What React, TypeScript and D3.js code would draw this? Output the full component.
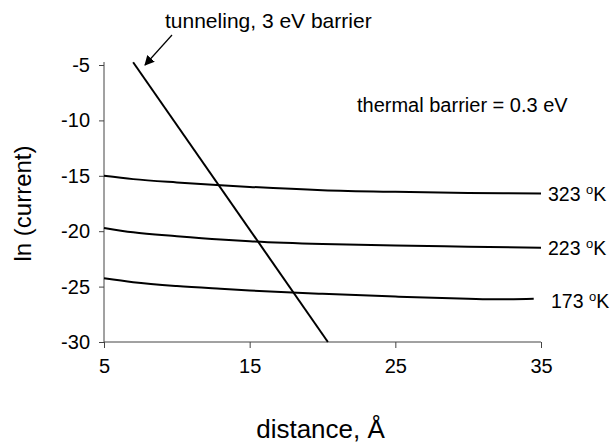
import React, { useEffect, useRef } from 'react';
import * as d3 from 'd3';

// values
const distance = [5, 7, 10, 13, 15, 20, 25, 30, 35];
const k323 = [-15.0, -15.3, -15.6, -15.85, -16.0, -16.3, -16.45, -16.55, -16.6];
const k223 = [-19.7, -20.1, -20.45, -20.75, -20.9, -21.15, -21.3, -21.4, -21.5];
const distance173 = [5, 7, 10, 13, 15, 20, 25, 30, 32, 34.5];
const k173 = [-24.25, -24.6, -24.95, -25.2, -25.35, -25.65, -25.9, -26.1, -26.15, -26.1];
const tunnelDistance = [7.0, 20.37];
const tunnelCurrent = [-4.75, -30];

const xTicks = [5, 15, 25, 35];
const yTicks = [-5, -10, -15, -20, -25, -30];
const seriesLabels = ['323', '223', '173'];

const WIDTH = 611;
const HEIGHT = 443;
const FONT = 'Liberation Sans, Arial, sans-serif';

export default function App() {
    const node = useRef<SVGSVGElement>(null);

    useEffect(() => {
        const svg = d3.select(node.current);
        svg.selectAll('*').remove();

        const x = d3.scaleLinear().domain([5, 35]).range([104, 541]);
        const y = d3.scaleLinear().domain([-30, -5]).range([342, 65]);

        svg.append('defs').append('marker')
            .attr('id', 'arrow')
            .attr('viewBox', '0 0 10 10')
            .attr('refX', 9).attr('refY', 5)
            .attr('markerWidth', 10).attr('markerHeight', 10)
            .attr('markerUnits', 'userSpaceOnUse')
            .attr('orient', 'auto')
            .append('path')
            .attr('d', 'M0,0 L10,5 L0,10 z')
            .attr('fill', '#000');

        // axes
        const xAxis = svg.append('g')
            .attr('transform', `translate(0,${y(-30)})`)
            .call(d3.axisBottom(x).tickValues(xTicks).tickSize(6).tickPadding(11).tickFormat(d3.format('d')));
        const yAxis = svg.append('g')
            .attr('transform', `translate(${x(5)},0)`)
            .call(d3.axisLeft(y).tickValues(yTicks).tickSize(5).tickPadding(9).tickFormat(d => String(d)));
        [xAxis, yAxis].forEach(ax => {
            ax.select('.domain').remove();
            ax.selectAll('.tick line').attr('stroke', '#444');
            ax.selectAll('.tick text')
                .attr('fill', '#000')
                .attr('font-family', FONT)
                .attr('font-size', 20);
        });
        svg.append('line')
            .attr('x1', x(5)).attr('x2', x(35))
            .attr('y1', y(-30)).attr('y2', y(-30))
            .attr('stroke', '#444');
        svg.append('line')
            .attr('x1', x(5)).attr('x2', x(5))
            .attr('y1', y(-30)).attr('y2', y(-5) - 3)
            .attr('stroke', '#444');

        // thermal curves
        const line = d3.line<[number, number]>()
            .x(d => x(d[0]))
            .y(d => y(d[1]))
            .curve(d3.curveMonotoneX);
        const series: [number, number][][] = [
            distance.map((d, i) => [d, k323[i]]),
            distance.map((d, i) => [d, k223[i]]),
            distance173.map((d, i) => [d, k173[i]]),
        ];
        svg.append('g').selectAll('path')
            .data(series)
            .join('path')
            .attr('d', d => line(d))
            .attr('fill', 'none')
            .attr('stroke', '#000')
            .attr('stroke-width', 2);

        // tunneling line
        svg.append('path')
            .attr('d', line(tunnelDistance.map((d, i) => [d, tunnelCurrent[i]]) as [number, number][]))
            .attr('fill', 'none')
            .attr('stroke', '#000')
            .attr('stroke-width', 2);

        // series labels
        const labels = svg.append('g')
            .attr('font-family', FONT)
            .attr('font-size', 19.5)
            .selectAll('text')
            .data(series)
            .join('text')
            .attr('x', (d, i) => x(35) + (i === 2 ? 10 : 7))
            .attr('y', (d, i) => y(d[d.length - 1][1]) + (i === 2 ? 9 : 7));
        labels.append('tspan').text((d, i) => seriesLabels[i] + ' ');
        labels.append('tspan').attr('font-size', 13).attr('dy', -7).text('o');
        labels.append('tspan').attr('dy', 7).text('K');

        // annotations
        svg.append('text')
            .attr('x', 165).attr('y', 28)
            .attr('font-family', FONT).attr('font-size', 21)
            .text('tunneling, 3 eV barrier');
        svg.append('line')
            .attr('x1', 172).attr('y1', 35)
            .attr('x2', 145).attr('y2', 65)
            .attr('stroke', '#000').attr('stroke-width', 1.2)
            .attr('marker-end', 'url(#arrow)');
        svg.append('text')
            .attr('x', 357).attr('y', 112)
            .attr('font-family', FONT).attr('font-size', 20)
            .text('thermal barrier = 0.3 eV');

        // axis titles
        svg.append('text')
            .attr('x', (x(5) + x(35)) / 2 - 2).attr('y', 438)
            .attr('text-anchor', 'middle')
            .attr('font-family', FONT).attr('font-size', 26)
            .text('distance, Å');
        svg.append('text')
            .attr('transform', `translate(31,${(y(-5) + y(-30)) / 2}) rotate(-90)`)
            .attr('text-anchor', 'middle')
            .attr('font-family', FONT).attr('font-size', 24)
            .text('ln (current)');
    }, []);

    return (
        <div style={{ position: 'absolute', left: 0, top: 0 }}>
            <svg ref={node} width={WIDTH} height={HEIGHT} style={{ display: 'block', background: '#fff' }} />
        </div>
    );
}
